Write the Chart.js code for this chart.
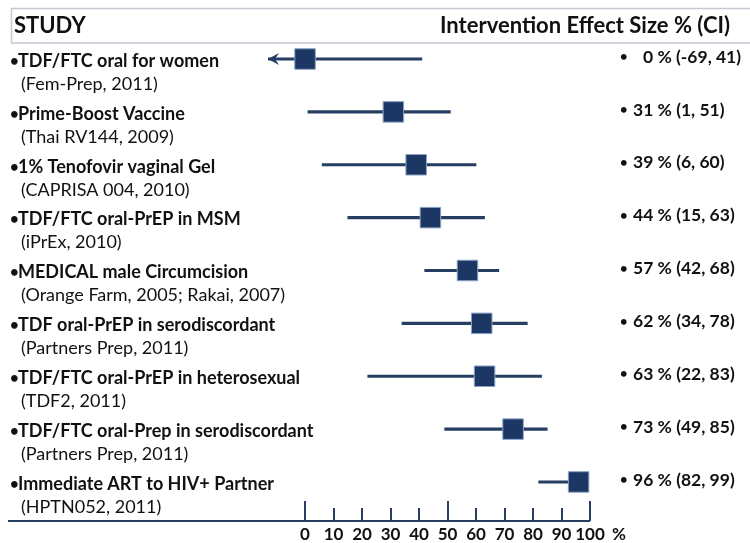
<!DOCTYPE html>
<html>
<head>
<meta charset="utf-8">
<script src="https://cdn.jsdelivr.net/npm/chart.js@4.4.0/dist/chart.umd.min.js"></script>
<style>
  html, body { margin: 0; padding: 0; background: #fff; }
  #wrap { width: 750px; height: 543px; position: relative; }
</style>
</head>
<body>
<div id="wrap"><canvas id="forest" width="750" height="543"></canvas></div>
<script>
const studies = [
    'TDF/FTC oral for women',
    'Prime-Boost Vaccine',
    '1% Tenofovir vaginal Gel',
    'TDF/FTC oral-PrEP in MSM',
    'MEDICAL male Circumcision',
    'TDF oral-PrEP in serodiscordant',
    'TDF/FTC oral-PrEP in heterosexual',
    'TDF/FTC oral-Prep in serodiscordant',
    'Immediate ART to HIV+ Partner'
];
const sources = [
    '(Fem-Prep, 2011)',
    '(Thai RV144, 2009)',
    '(CAPRISA 004, 2010)',
    '(iPrEx, 2010)',
    '(Orange Farm, 2005; Rakai, 2007)',
    '(Partners Prep, 2011)',
    '(TDF2, 2011)',
    '(Partners Prep, 2011)',
    '(HPTN052, 2011)'
];
const effects = [0, 31, 39, 44, 57, 62, 63, 73, 96];
const ciLow = [-69, 1, 6, 15, 42, 34, 22, 49, 82];
const ciHigh = [41, 51, 60, 63, 68, 78, 83, 85, 99];
const axisTicks = [0, 10, 20, 30, 40, 50, 60, 70, 80, 90, 100];

const NAVY = '#1d3764';
const LINE = '#263e62';
const FONT = 'Lato, "Open Sans", sans-serif';

// header, row labels, effect labels and the hand-drawn axis
const forestText = {
    id: 'forestText',
    afterDatasetsDraw(chart) {
        const { ctx, scales: { x, y } } = chart;
        ctx.save();

        // arrows for intervals running past the left edge
        ciLow.forEach((lo, i) => {
            if (lo >= x.min) return;
            const px = x.getPixelForValue(x.min);
            const py = y.getPixelForValue(i);
            ctx.fillStyle = LINE;
            ctx.beginPath();
            ctx.moveTo(px, py);
            ctx.lineTo(px + 11, py - 6);
            ctx.lineTo(px + 7, py);
            ctx.lineTo(px + 11, py + 6);
            ctx.closePath();
            ctx.fill();
        });

        // header box
        ctx.strokeStyle = '#c3cad4';
        ctx.lineWidth = 1.5;
        ctx.strokeRect(11.5, 8.5, 745, 34.5);
        ctx.fillStyle = '#111';
        ctx.textBaseline = 'middle';
        ctx.font = 'bold 22px ' + FONT;
        ctx.fillText('STUDY', 14, 26);
        ctx.fillText('Intervention Effect Size % (CI)', 440, 26);

        // study labels
        studies.forEach((name, i) => {
            const py = y.getPixelForValue(i);
            ctx.font = 'bold 15px ' + FONT;
            ctx.fillText('\u2022', 10, py + 2);
            ctx.font = 'bold 18px ' + FONT;
            ctx.fillText(name, 18, py + 2);
            ctx.font = '18px ' + FONT;
            ctx.fillText(sources[i], 21, py + 25);
        });

        // effect size labels
        effects.forEach((eff, i) => {
            const py = y.getPixelForValue(i) - 2;
            ctx.font = 'bold 13px ' + FONT;
            ctx.fillText('\u2022', 620, py);
            ctx.font = 'bold 17.5px ' + FONT;
            const tx = eff < 10 ? 643 : 633;
            ctx.fillText(eff + ' % (' + ciLow[i] + ', ' + ciHigh[i] + ')', tx, py);
        });

        // x axis
        const base = 521;
        ctx.strokeStyle = LINE;
        ctx.lineWidth = 2;
        ctx.beginPath();
        ctx.moveTo(8, base);
        ctx.lineTo(x.getPixelForValue(100), base);
        axisTicks.forEach(t => {
            const px = Math.round(x.getPixelForValue(t));
            ctx.moveTo(px, base);
            ctx.lineTo(px, t % 50 === 0 ? 501 : 508);
        });
        ctx.stroke();

        ctx.font = 'bold 17px ' + FONT;
        ctx.textAlign = 'center';
        axisTicks.forEach(t => {
            ctx.fillText(String(t), x.getPixelForValue(t), 535);
        });
        ctx.textAlign = 'left';
        ctx.fillText('%', x.getPixelForValue(100) + 22, 535);

        ctx.restore();
    }
};

new Chart(document.getElementById('forest'), {
    type: 'bar',
    data: {
        labels: studies,
        datasets: [{
            label: 'Effect size',
            type: 'line',
            indexAxis: 'y',
            data: effects,
            showLine: false,
            pointStyle: 'rect',
            pointRadius: 14.5,
            pointBackgroundColor: NAVY,
            pointBorderColor: '#8aa3c6',
            pointBorderWidth: 1,
            order: 0
        }, {
            label: 'CI',
            data: ciLow.map((lo, i) => [lo, ciHigh[i]]),
            backgroundColor: LINE,
            barThickness: 2.5,
            clip: { left: 0, right: false, top: false, bottom: false },
            order: 1
        }]
    },
    options: {
        indexAxis: 'y',
        responsive: false,
        animation: false,
        layout: { padding: { left: 268, right: 160, top: 32.6, bottom: 34.6 } },
        scales: {
            x: { type: 'linear', min: -13, max: 100, display: false },
            y: { type: 'category', display: false, offset: true }
        },
        plugins: {
            legend: { display: false },
            tooltip: { enabled: false }
        }
    },
    plugins: [forestText]
});
</script>
</body>
</html>
